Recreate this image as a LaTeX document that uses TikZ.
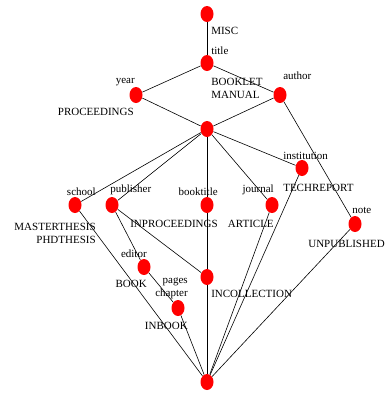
\documentclass[tikz,border=0pt]{standalone}
\usepackage{fontspec}
\setmainfont{Liberation Serif}
\usetikzlibrary{shapes}
\tikzset{
	every path/.style={line width=0.6pt},
	concept/.style={
		ellipse,
		fill=red,
		minimum width=13pt,
		minimum height=16pt,
		inner sep=0pt,
	},
	attr/.style={
		inner sep=0pt,
		font=\fontsize{11}{13}\selectfont,
	},
	obj/.style={
		inner sep=0pt,
		font=\fontsize{11}{13}\selectfont,
	},
	link/.style={draw, black},
}

\begin{document}
\begin{tikzpicture}[
		x=1pt, y=-1pt,
		obj/.append style={align=left},
	]
		\useasboundingbox (0,0) rectangle (386,394);

		% concepts
		\node[concept] (misc)    at (207,14)  {};
		\node[concept] (booklet) at (207,63)  {};
		\node[concept] (proc)    at (136,95)  {};
		\node[concept] (authr)   at (280,95)  {};
		\node[concept] (meet)    at (207,129) {};
		\node[concept] (techrep) at (302,168) {};
		\node[concept] (thesis)  at (75,205)  {};
		\node[concept] (publ)    at (112,205) {};
		\node[concept] (inproc)  at (207,205) {};
		\node[concept] (artcl)   at (272,205) {};
		\node[concept] (unpub)   at (355,224) {};
		\node[concept] (book)    at (144,267) {};
		\node[concept] (incoll)  at (207,277) {};
		\node[concept] (inbook)  at (178,308) {};
		\node[concept] (bottom)  at (207,382) {};

		% attributes
		\node[attr, anchor=base west] (ltitle)   at (211,54)  {title};
		\node[attr, anchor=base east] (lyear)    at (135,83)  {year};
		\node[attr, anchor=base west] (lauthor)  at (283,79)  {author};
		\node[attr, anchor=base west] (linst)    at (283,159) {institution};
		\node[attr, anchor=base east] (lschool)  at (96,195)  {school};
		\node[attr, anchor=base west] (lpubl)    at (110,192) {publisher};
		\node[attr, anchor=base east] (lbktitle) at (218,195) {booktitle};
		\node[attr, anchor=base east] (ljournal) at (274,192) {journal};
		\node[attr, anchor=base west] (lnote)    at (352,213) {note};
		\node[attr, anchor=base east] (leditor)  at (147,257) {editor};
		\node[attr, anchor=base east, align=right] (lpages) at (188,296) {pages\\chapter};

		% objects
		\node[obj, anchor=base west] (lmisc)    at (211,34)  {MISC};
		\node[obj, anchor=base west] (lbooklet) at (211,98)  {BOOKLET\\MANUAL};
		\node[obj, anchor=base east] (lproc)    at (134,115) {PROCEEDINGS};
		\node[obj, anchor=base west] (ltech)    at (283,191) {TECHREPORT};
		\node[obj, anchor=base east, align=right] (lthesis) at (96,243) {MASTERTHESIS\\PHDTHESIS};
		\node[obj, anchor=base east] (linproc)  at (218,227) {INPROCEEDINGS};
		\node[obj, anchor=base east] (larticle) at (274,227) {ARTICLE};
		%\node[obj, anchor=base west] (lunpub)   at (313,247) {UNPUBLISHED};
		\node[obj, anchor=base east] (lunpub)   at (385,247) {UNPUBLISHED};
		\node[obj, anchor=base east] (lbook)    at (147,287) {BOOK};
		\node[obj, anchor=base west] (lincoll)  at (211,297) {INCOLLECTION};
		\node[obj, anchor=base east] (linbook)  at (188,329) {INBOOK};

		\draw[link] (misc) -- (booklet);
		\draw[link] (booklet) -- (proc);
		\draw[link] (booklet) -- (authr);
		\draw[link] (proc) -- (meet);
		\draw[link] (authr) -- (meet);
		\draw[link] (authr) -- (unpub);

		\draw[link] (meet) -- (thesis);
		\draw[link] (meet) -- (publ);
		\draw[link] (meet) -- (inproc);
		\draw[link] (meet) -- (artcl);
		\draw[link] (meet) -- (techrep);

		\draw[link] (publ) -- (book);
		\draw[link] (publ) -- (incoll);
		\draw[link] (inproc) -- (incoll);
		\draw[link] (book) -- (inbook);

		\draw[link] (thesis) -- (bottom);
		\draw[link] (inbook) -- (bottom);
		\draw[link] (incoll) -- (bottom);
		\draw[link] (artcl) -- (bottom);
		\draw[link] (techrep) -- (bottom);
		\draw[link] (unpub) -- (bottom);

	\end{tikzpicture}
\end{document}
